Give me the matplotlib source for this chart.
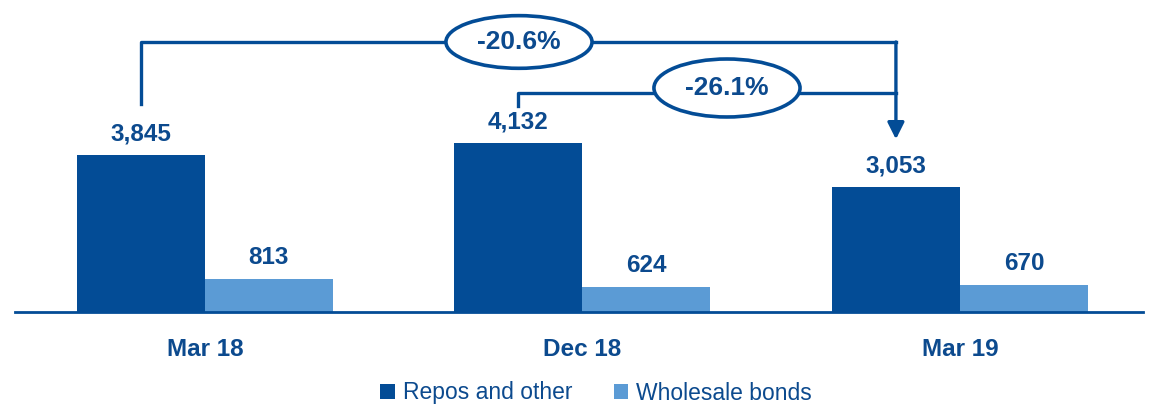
import numpy as np
from matplotlib import pyplot as plt
from matplotlib.patches import Ellipse

categories = ['Mar 18', 'Dec 18', 'Mar 19']
repos = [3845, 4132, 3053]
wholesale = [813, 624, 670]
series_names = ['Repos and other', 'Wholesale bonds']
changes = ['-20.6%', '-26.1%']

dark = '#034C96'
light = '#5B9BD5'
txt = '#0C4A8E'
fam = ['Liberation Sans', 'DejaVu Sans']

fig = plt.figure(figsize=(11.5, 4.09), dpi=100)
ax = fig.add_axes([15/1150, 97/409, 1128/1150, 312/409])

x = np.arange(len(categories))
w = 0.339
b1 = ax.bar(x - w/2, repos, w, color=dark, label=series_names[0])
b2 = ax.bar(x + w/2, wholesale, w, color=light, label=series_names[1])

for rect, v in list(zip(b1, repos)) + list(zip(b2, wholesale)):
    ax.text(rect.get_x() + rect.get_width()/2, v + 230, f'{v:,}', ha='center', va='bottom',
            fontsize=17.5, fontweight='bold', color=txt, family=fam)

ax.set_xlim(-0.503, 2.485)
ax.set_ylim(0, 7641)
for s in ['top', 'right', 'left']:
    ax.spines[s].set_visible(False)
ax.spines['bottom'].set_color(dark)
ax.spines['bottom'].set_linewidth(2)
ax.set_yticks([])
ax.set_xticks(x)
ax.set_xticklabels(categories, fontsize=17.5, fontweight='bold', color=txt, family=fam)
ax.tick_params(axis='x', length=0, pad=19)

# change brackets
lw = 2.4
x0, x1, x2 = x[0] - w/2, x[1] - w/2, x[2] - w/2
ax.plot([x0, x0, x2], [5094, 6613, 6613], color=dark, lw=lw, clip_on=False, zorder=3)
ax.plot([x1, x1, x2], [5045, 5364, 5364], color=dark, lw=lw, clip_on=False, zorder=3)
ax.annotate('', xy=(x2, 4230), xytext=(x2, 6613),
            arrowprops=dict(arrowstyle='-|>,head_length=1.0,head_width=0.5', color=dark, lw=lw,
                            shrinkA=0, shrinkB=0), annotation_clip=False, zorder=3)

for (cx, cy, hh), label in zip([(0.832, 6613, 1290), (1.383, 5486, 1420)], changes):
    ax.add_patch(Ellipse((cx, cy), 0.387, hh, facecolor='white', edgecolor=dark, lw=2.6,
                         clip_on=False, zorder=4))
    ax.text(cx, cy, label, ha='center', va='center', fontsize=19, fontweight='bold',
            color=txt, family=fam, zorder=5)

fig.legend(handles=[b1, b2], labels=series_names, loc='center', bbox_to_anchor=(596/1150, 16/409),
           ncol=2, frameon=False, prop={'family': fam, 'size': 16.5}, labelcolor=txt,
           handlelength=0.65, handleheight=0.65, handletextpad=0.35, columnspacing=1.8)

fig.savefig('out.png', dpi=100)
